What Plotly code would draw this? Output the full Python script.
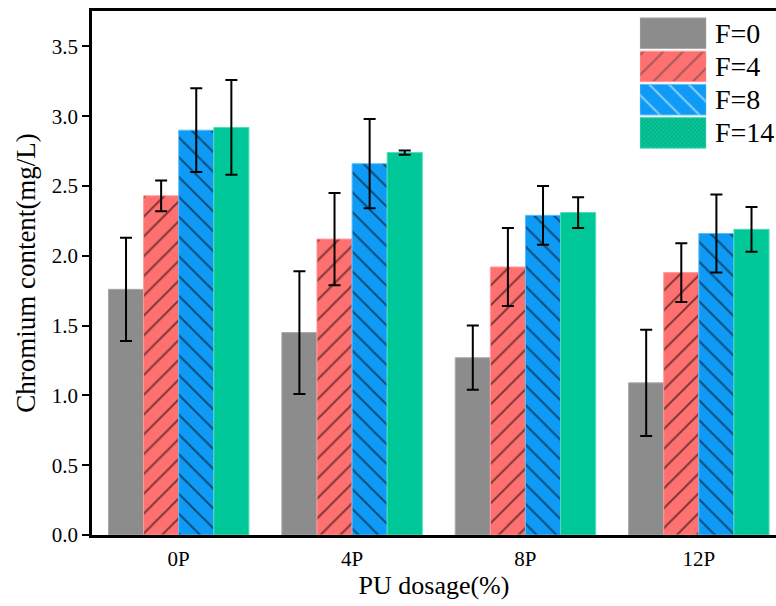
import plotly.graph_objects as go

categories = ["0P", "4P", "8P", "12P"]
series_names = ["F=0", "F=4", "F=8", "F=14"]
f0 = [1.76, 1.45, 1.27, 1.09]
f4 = [2.43, 2.12, 1.92, 1.88]
f8 = [2.90, 2.66, 2.29, 2.16]
f14 = [2.92, 2.74, 2.31, 2.19]
f0_err = [0.37, 0.44, 0.23, 0.38]
f4_err = [0.11, 0.33, 0.28, 0.21]
f8_err = [0.30, 0.32, 0.21, 0.28]
f14_err = [0.34, 0.015, 0.11, 0.16]

values = [f0, f4, f8, f14]
errors = [f0_err, f4_err, f8_err, f14_err]
colors = ["#8C8C8C", "#FF7070", "#0F9BF5", "#00C999"]
edge_colors = ["#A8A8A8", "#FF9A9A", "#5CBDF8", "#4FDDB8"]
shapes = ["", "/", "\\", "x"]
fgcolors = ["#000000", "#000000", "#000000", "#00B890"]
sizes = [14, 14, 14, 3]
solidities = [0.14, 0.14, 0.14, 0.25]

FONT = "Liberation Serif, DejaVu Serif, serif"

fig = go.Figure()
for name, vals, errs, c, ec, sh, fg, sz, so in zip(series_names, values, errors, colors,
                                                  edge_colors, shapes, fgcolors, sizes, solidities):
    fig.add_trace(go.Bar(
        x=categories, y=vals, name=name, showlegend=False,
        marker=dict(color=c, line=dict(color=ec, width=1),
                    pattern=dict(shape=sh, fgcolor=fg, size=sz, solidity=so, fillmode="overlay")),
        error_y=dict(type="data", array=errs, visible=True, color="#000000", thickness=2, width=6),
    ))

# legend swatches as a small horizontal bar chart; names as annotations beside them
fig.add_trace(go.Bar(
    x=[1, 1, 1, 1], y=series_names, orientation="h", width=0.92,
    xaxis="x2", yaxis="y2", showlegend=False, hoverinfo="skip",
    marker=dict(color=colors, line=dict(color=edge_colors, width=1),
                pattern=dict(shape=shapes, fgcolor=fgcolors, size=sizes, solidity=solidities,
                             fillmode="overlay")),
))
for name in series_names:
    fig.add_annotation(x=0.908, xref="paper", y=name, yref="y2", text=name, showarrow=False,
                       xanchor="left", yanchor="middle", font=dict(size=28, family=FONT, color="black"))

fig.update_layout(
    width=776, height=606,
    margin=dict(l=92, r=0, t=11, b=71, autoexpand=False),
    paper_bgcolor="white", plot_bgcolor="white",
    barmode="group", bargap=0.19, bargroupgap=0,
    font=dict(family=FONT, color="black"),
    xaxis=dict(
        range=[-0.5, 3.445], showline=True, linecolor="black", linewidth=2.5, mirror=True,
        ticks="", showgrid=False, tickfont=dict(size=21, family=FONT), ticklabelstandoff=3,
        title=dict(text="PU dosage(%)", font=dict(size=26, family=FONT), standoff=0),
    ),
    yaxis=dict(
        range=[0, 3.754], showline=True, linecolor="black", linewidth=2.5, mirror=False,
        ticks="outside", ticklen=7, tickwidth=2, tickcolor="black", dtick=0.5, tickformat=".1f",
        showgrid=False, zeroline=False, tickfont=dict(size=21, family=FONT),
        title=dict(text="Chromium content(mg/L)", font=dict(size=27, family=FONT), standoff=9),
    ),
    xaxis2=dict(domain=[0.801, 0.898], anchor="y2", range=[0, 1], visible=False, fixedrange=True),
    yaxis2=dict(domain=[0.734, 0.991], anchor="x2", type="category",
                categoryorder="array", categoryarray=series_names, autorange="reversed",
                visible=False, fixedrange=True),
)

fig.write_html("out.html")
